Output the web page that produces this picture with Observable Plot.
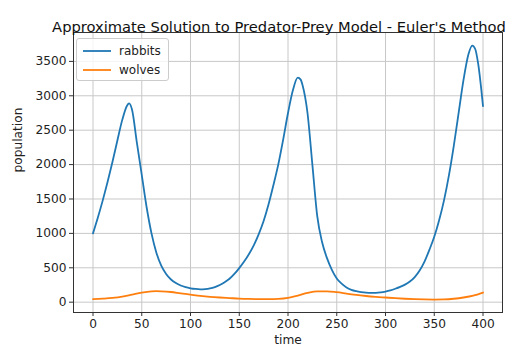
<!DOCTYPE html>
<html>
<head>
<meta charset="utf-8">
<script src="https://cdn.jsdelivr.net/npm/d3@7"></script>
<script src="https://cdn.jsdelivr.net/npm/@observablehq/plot@0.6"></script>
<style>
  body { margin: 0; background: #fff; }
  #wrap { position: relative; width: 528px; height: 350px; font-family: "DejaVu Sans", sans-serif; }
  #legend { position: absolute; left: 76px; top: 38px; width: 93px; height: 43px; box-sizing: border-box;
    border: 1px solid #cccccc; border-radius: 3px; background: rgba(255,255,255,0.8); font-size: 12px; color: #222; }
  .item { position: absolute; left: 0; height: 14px; display: flex; align-items: center; }
  .item span { margin-left: 8px; }
</style>
</head>
<body>
<div id="wrap"></div>
<script>
const title = "Approximate Solution to Predator-Prey Model - Euler's Method";
const xLabel = "time";
const yLabel = "population";
const seriesNames = ["rabbits", "wolves"];
const seriesColors = ["#1f77b4", "#ff7f0e"];
const xTicks = [0, 50, 100, 150, 200, 250, 300, 350, 400];
const yTicks = [0, 500, 1000, 1500, 2000, 2500, 3000, 3500];

const rabbitTime = [0, 5, 10, 15, 20, 25, 30, 35, 37, 40, 45, 50, 55, 60, 65, 70, 75, 80, 85, 90, 95, 100, 105, 110, 115, 120, 125, 130, 135, 140, 145, 150, 155, 160, 165, 170, 175, 180, 185, 190, 195, 200, 205, 210, 213, 215, 220, 225, 230, 235, 240, 245, 250, 255, 260, 265, 270, 275, 280, 285, 290, 295, 300, 305, 310, 315, 320, 325, 330, 335, 340, 345, 350, 355, 360, 365, 370, 375, 380, 385, 389, 392, 395, 400];
const rabbits = [1000, 1230, 1480, 1750, 2040, 2350, 2650, 2860, 2890, 2800, 2320, 1850, 1380, 1000, 720, 530, 410, 330, 278, 242, 218, 202, 192, 187, 190, 200, 220, 250, 290, 340, 410, 495, 590, 700, 830, 990, 1180, 1420, 1700, 2000, 2360, 2750, 3080, 3265, 3235, 3150, 2750, 2000, 1250, 870, 640, 470, 345, 270, 215, 180, 160, 147, 138, 134, 136, 143, 155, 172, 195, 222, 255, 300, 365, 460, 590, 760, 950, 1190, 1480, 1840, 2270, 2750, 3230, 3600, 3730, 3680, 3470, 2850];

const wolfTime = [0, 10, 20, 30, 40, 50, 60, 65, 70, 80, 90, 100, 110, 120, 130, 140, 150, 160, 170, 180, 190, 200, 210, 220, 230, 240, 250, 260, 270, 280, 290, 300, 310, 320, 330, 340, 350, 360, 370, 380, 390, 400];
const wolves = [45, 52, 62, 80, 110, 140, 158, 160, 158, 148, 128, 110, 92, 78, 68, 60, 52, 47, 44, 43, 47, 62, 95, 135, 158, 158, 145, 125, 105, 90, 78, 68, 58, 50, 44, 40, 38, 40, 50, 68, 95, 140];

const rabbitData = rabbitTime.map((t, i) => ({t, v: rabbits[i]}));
const wolfData = wolfTime.map((t, i) => ({t, v: wolves[i]}));

const chart = Plot.plot({
  width: 528, height: 350,
  marginLeft: 73, marginRight: 26, marginTop: 32, marginBottom: 38,
  style: {fontFamily: "DejaVu Sans", fontSize: "12.2px", color: "#222", background: "#fff"},
  x: {domain: [-20, 420]},
  y: {domain: [-150, 3920]},
  marks: [
    Plot.gridX(xTicks, {stroke: "#c8c8c8", strokeOpacity: 1, strokeWidth: 1}),
    Plot.gridY(yTicks, {stroke: "#c8c8c8", strokeOpacity: 1, strokeWidth: 1}),
    Plot.line(rabbitData, {x: "t", y: "v", stroke: seriesColors[0], strokeWidth: 1.8, curve: "monotone-x"}),
    Plot.line(wolfData, {x: "t", y: "v", stroke: seriesColors[1], strokeWidth: 1.8, curve: "monotone-x"}),
    Plot.frame({stroke: "#333", strokeWidth: 1}),
    Plot.axisX(xTicks, {tickSize: 4, tickPadding: 3, label: null, stroke: "#333", tickFormat: d3.format("d")}),
    Plot.axisY(yTicks, {tickSize: 4, tickPadding: 3, label: null, stroke: "#333", tickFormat: d3.format("d")}),
    Plot.text([title], {frameAnchor: "top", dy: -11, dx: -9, fontSize: 14.7, fill: "#111"}),
    Plot.text([xLabel], {frameAnchor: "bottom", dy: 31, fontSize: 12.2, fill: "#222"}),
    Plot.text([yLabel], {frameAnchor: "left", dx: -55, rotate: -90, fontSize: 12.2, fill: "#222"})
  ]
});
const wrap = document.getElementById("wrap");
wrap.appendChild(chart);

const legend = document.createElement("div");
legend.id = "legend";
seriesNames.forEach((name, i) => {
  const item = document.createElement("div");
  item.className = "item";
  item.style.top = (5 + i * 19) + "px";
  item.style.left = "6px";
  item.innerHTML = `<svg width="28" height="4"><line x1="0" x2="28" y1="2" y2="2" stroke="${seriesColors[i]}" stroke-width="1.8"/></svg><span>${name}</span>`;
  legend.appendChild(item);
});
wrap.appendChild(legend);
</script>
</body>
</html>
